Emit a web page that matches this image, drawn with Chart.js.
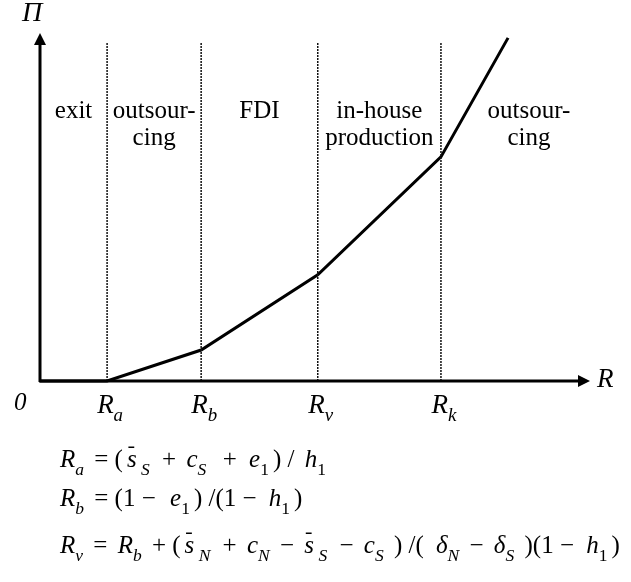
<!DOCTYPE html>
<html>
<head>
<meta charset="utf-8">
<script src="https://cdn.jsdelivr.net/npm/chart.js@4/dist/chart.umd.min.js"></script>
<style>
  html, body { margin: 0; padding: 0; background: #fff; }
  #regimes { display: block; }
</style>
</head>
<body>
<canvas id="regimes" width="631" height="582"></canvas>
<script>
// regimes between the thresholds, left to right
const regimeNames = [['exit'], ['outsour-', 'cing'], ['FDI'], ['in-house', 'production'], ['outsour-', 'cing']];
// thresholds R_a, R_b, R_v, R_k on the R axis (axis runs 0..100)
const thresholdSubs = ['a', 'b', 'v', 'k'];
const thresholdR = [12.2, 29.3, 50.5, 72.9];
const guideTop = 97.1;
// profit curve, piecewise linear
const profitR = [0, 12.2, 29.3, 50.5, 72.9, 85.1];
const profitPi = [0, 0, 8.9, 30.5, 64.4, 98.6];

// formulas under the chart: [text, kind]  i = italic, s = subscript, b = bar over
const formulas = [
    [['R', 'i'], ['a', 'is'], [' = (', ''], ['s', 'ib'], [' S', 'is'], [' + ', ''], ['c', 'i'], ['S', 'is'],
     ['  + ', ''], ['e', 'i'], ['1', 's'], [') / ', ''], ['h', 'i'], ['1', 's']],
    [['R', 'i'], ['b', 'is'], [' = (1 \u2212 ', ''], ['e', 'i'], ['1', 's'], [') /(1 \u2212 ', ''], ['h', 'i'], ['1', 's'], [')', '']],
    [['R', 'i'], ['v', 'is'], [' = ', ''], ['R', 'i'], ['b', 'is'], [' + (', ''], ['s', 'ib'], [' N', 'is'], [' + ', ''],
     ['c', 'i'], ['N', 'is'], [' \u2212 ', ''], ['s', 'ib'], [' S', 'is'], [' \u2212 ', ''], ['c', 'i'], ['S', 'is'],
     [' ) /( ', ''], ['\u03b4', 'i'], ['N', 'is'], [' \u2212 ', ''], ['\u03b4', 'i'], ['S', 'is'], [' )(1 \u2212 ', ''],
     ['h', 'i'], ['1', 's'], [')', '']]
];

const SERIF = '"Liberation Serif", "Times New Roman", serif';

const drawRuns = (ctx, runs, x, y, size, subGap = 0, spaceGap = 0) => {
    for(const [txt, kind] of runs) {
        const sub = kind.includes('s');
        const fs = sub ? size * 0.7 : size;
        ctx.font = `${kind.includes('i') ? 'italic ' : ''}${fs}px ${SERIF}`;
        const dy = sub ? size * 0.3 : 0;
        ctx.fillText(txt, x, y + dy);
        const w = ctx.measureText(txt).width;
        if(kind.includes('b')) {
            // short bar over the letter
            ctx.fillRect(x + w * 0.15, y - size * 0.82, w * 0.6, 1.5);
        }
        x += w + (sub ? subGap : 0) + spaceGap * (txt.split(' ').length - 1);
    }
    return x;
};

const runsWidth = (ctx, runs, size) => {
    let w = 0;
    for(const [txt, kind] of runs) {
        const fs = kind.includes('s') ? size * 0.7 : size;
        ctx.font = `${kind.includes('i') ? 'italic ' : ''}${fs}px ${SERIF}`;
        w += ctx.measureText(txt).width;
    }
    return w;
};

const arrowHead = (ctx, x, y, dir) => {
    ctx.beginPath();
    if(dir === 'up') {
        ctx.moveTo(x, y);
        ctx.lineTo(x - 6, y + 12);
        ctx.lineTo(x + 6, y + 12);
    }
    else {
        ctx.moveTo(x, y);
        ctx.lineTo(x - 12, y - 6);
        ctx.lineTo(x - 12, y + 6);
    }
    ctx.closePath();
    ctx.fill();
};

const axesAndText = {
    id: 'axesAndText',
    afterDatasetsDraw(chart) {
        const ctx = chart.ctx;
        const xs = chart.scales.x;
        const ys = chart.scales.y;
        const x0 = xs.getPixelForValue(0);
        const y0 = ys.getPixelForValue(0);
        const xEnd = xs.getPixelForValue(xs.max);
        const yEnd = ys.getPixelForValue(ys.max);
        ctx.save();
        ctx.fillStyle = '#000';
        ctx.strokeStyle = '#000';
        ctx.lineWidth = 3;

        // axes
        ctx.beginPath();
        ctx.moveTo(x0, y0 + 1);
        ctx.lineTo(x0, yEnd + 8);
        ctx.moveTo(x0 - 1, y0);
        ctx.lineTo(xEnd - 8, y0);
        ctx.stroke();
        arrowHead(ctx, x0, yEnd, 'up');
        arrowHead(ctx, xEnd, y0, 'right');

        // axis names
        ctx.textBaseline = 'alphabetic';
        ctx.textAlign = 'left';
        ctx.font = `italic 28px ${SERIF}`;
        ctx.fillText('\u03a0', x0 - 18, yEnd - 12);
        ctx.font = `italic 27px ${SERIF}`;
        ctx.fillText('R', xEnd + 7, y0 + 6);
        ctx.font = `italic 25px ${SERIF}`;
        ctx.fillText('0', x0 - 26, y0 + 29);

        // threshold labels
        thresholdR.forEach((r, i) => {
            const px = xs.getPixelForValue(r);
            const runs = [['R', 'i'], [thresholdSubs[i], 'is']];
            const w = runsWidth(ctx, runs, 27);
            drawRuns(ctx, runs, px + 3 - w / 2, y0 + 32, 27);
        });

        // regime names, centred between thresholds (last one runs out to the axis name)
        ctx.textAlign = 'center';
        ctx.font = `25px ${SERIF}`;
        const edges = [x0, ...thresholdR.map(r => xs.getPixelForValue(r)), xEnd + 27];
        regimeNames.forEach((lines, i) => {
            const px = (edges[i] + edges[i + 1]) / 2;
            lines.forEach((t, j) => {
                ctx.fillText(t, px, chart.chartArea.top + 85 + j * 27);
            });
        });

        // formulas
        ctx.textAlign = 'left';
        const baselines = [467, 506, 553];
        formulas.forEach((runs, i) => drawRuns(ctx, runs, 60, baselines[i], 25, 4, 2));
        ctx.restore();
    }
};

const guideSets = thresholdR.map(r => ({
    data: [{x: r, y: 0}, {x: r, y: guideTop}],
    showLine: true,
    borderColor: '#111',
    borderWidth: 1.5,
    borderDash: [2, 1],
    pointRadius: 0,
    clip: false
}));

new Chart(document.querySelector('#regimes'), {
    type: 'scatter',
    data: {
        datasets: [
            ...guideSets,
            {
                data: profitR.map((r, i) => ({x: r, y: profitPi[i]})),
                showLine: true,
                borderColor: '#000',
                borderWidth: 3,
                pointRadius: 0,
                clip: false
            }
        ]
    },
    options: {
        responsive: false,
        animation: false,
        devicePixelRatio: 1,
        layout: { padding: { left: 40, right: 41, top: 33, bottom: 201 } },
        plugins: { legend: { display: false }, tooltip: { enabled: false } },
        scales: {
            x: { type: 'linear', min: 0, max: 100, display: false },
            y: { type: 'linear', min: 0, max: 100, display: false }
        }
    },
    plugins: [axesAndText]
});
</script>
</body>
</html>
